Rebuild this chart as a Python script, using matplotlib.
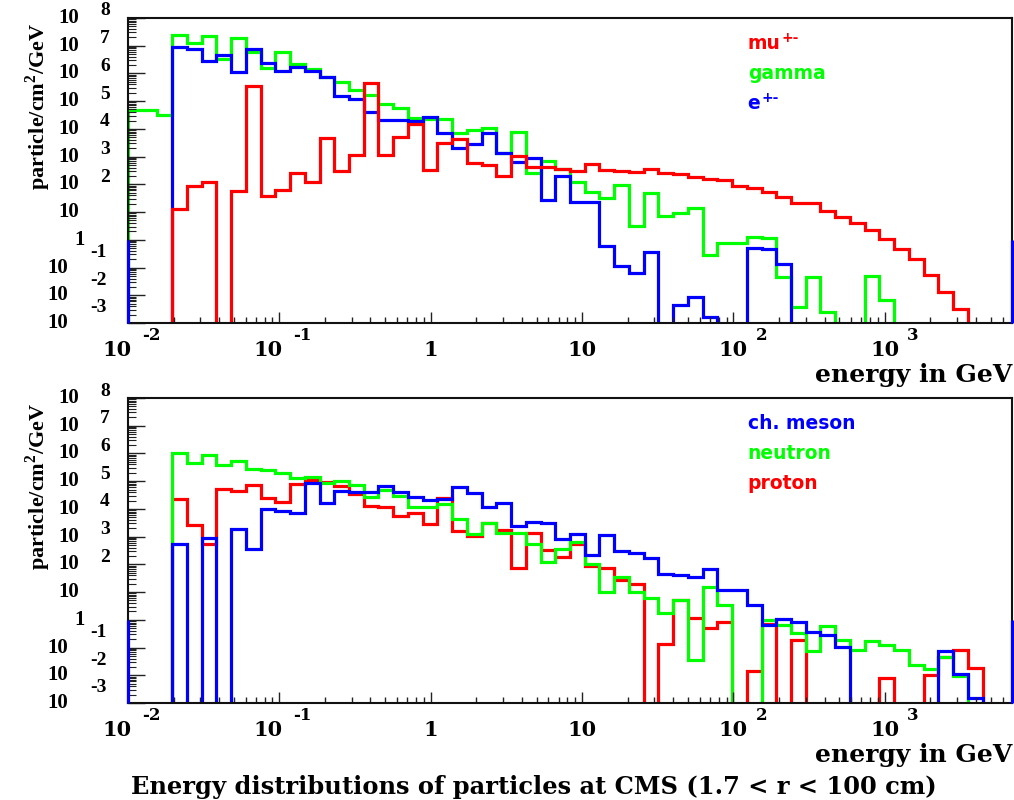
import numpy as np
import matplotlib
matplotlib.use("Agg")
import matplotlib.pyplot as plt
import matplotlib.transforms as mtransforms
from matplotlib.ticker import LogLocator, NullFormatter

# 60 log-spaced energy bins (GeV)
LOG_EMIN, LOG_EMAX, NBINS = -2.0, 3.84, 60
EDGE_LEVEL = 1.0   # height of the blue line drawn on both frame edges

# log10(particle/cm2/GeV) per bin, None = empty bin
# top panel
mu_top = [None, None, None, 1.10, 1.95, 2.10, None, 1.76, 5.56, 1.58,
          1.80, 2.40, 2.10, 3.66, 2.48, 3.06, 5.67, 3.06, 3.72, 4.17,
          2.52, 3.50, 3.62, 2.76, 2.70, 2.31, 3.02, 2.64, 2.64, 2.55,
          2.49, 2.73, 2.52, 2.49, 2.43, 2.55, 2.42, 2.36, 2.28, 2.20,
          2.17, 1.95, 1.86, 1.71, 1.56, 1.34, 1.32, 1.05, 0.83, 0.62,
          0.35, 0.02, -0.34, -0.70, -1.27, -1.87, -2.51, None, None, None]
gamma_top = [4.68, 4.68, 4.50, 7.39, 7.11, 7.35, 6.51, 7.27, 6.78, 6.21,
             6.76, 6.33, 6.15, 5.88, 5.68, 5.39, 5.21, 4.90, 4.74, 4.38,
             4.36, 4.36, 3.86, 3.96, 4.02, 3.12, 3.88, 2.40, 2.85, 2.54,
             2.10, 1.74, 1.50, 1.98, 0.51, 1.68, 0.86, 0.96, 1.14, -0.55,
             -0.13, -0.13, 0.09, 0.07, -1.33, -2.43, -1.33, -2.61, None, None,
             -1.30, -2.17, None, None, None, None, None, None, None, None]
e_top = [None, None, None, 6.96, 6.87, 6.45, 6.66, 6.04, 6.87, 6.39,
         6.09, 6.24, 6.10, 5.86, 5.19, 5.09, 4.60, 4.32, 4.32, 4.28,
         4.44, 3.84, 3.30, 3.46, 3.86, 3.14, 2.82, 2.96, 1.44, 2.30,
         1.37, 1.37, -0.21, -0.93, -1.21, -0.45, None, -2.35, -2.05, -2.77,
         None, None, -0.28, -0.34, -0.87, None, None, None, None, None,
         None, None, None, None, None, None, None, None, None, None]
# bottom panel
meson_bot = [None, None, None, 2.73, None, 2.94, None, 3.27, 2.54, 4.00,
             3.92, 3.86, 4.95, 4.20, 4.66, 4.62, 4.62, 4.83, 4.60, 4.44,
             4.32, 4.36, 4.78, 4.56, 4.06, 4.20, 3.39, 3.54, 3.50, 2.90,
             3.09, 2.34, 3.06, 2.49, 2.40, 2.22, 1.65, 1.62, 1.53, 1.83,
             1.09, 1.09, 0.55, -0.19, 0.02, -0.07, -0.45, -0.55, -0.97, None,
             None, None, None, None, None, -1.12, -1.95, -2.83, None, None]
neutron_bot = [None, None, None, 6.00, 5.64, 5.94, 5.58, 5.74, 5.43, 5.41,
               5.28, 5.10, 5.14, 4.95, 5.02, 4.86, 4.44, 4.68, 4.46, 4.06,
               4.06, 4.18, 3.64, 3.08, 3.50, 3.14, 3.12, 2.73, 2.10, 2.55,
               2.79, 2.01, 0.99, 1.55, 1.01, 0.77, 0.23, 0.71, -1.45, 1.20,
               0.55, None, None, 0.0, -0.19, -0.46, -1.12, -0.22, -0.73, -1.09,
               -0.75, -0.90, -1.10, -1.64, -1.79, -1.35, -2.03, None, None, None]
proton_bot = [None, None, None, 4.36, 3.42, 2.73, 4.72, 4.65, 4.86, 4.38,
              4.26, 4.90, 5.04, 4.98, 4.83, 4.54, 4.12, 4.08, 3.75, 3.86,
              3.44, 4.38, 3.21, 3.02, 3.50, 3.24, 1.86, 3.14, 2.52, 2.28,
              2.72, 1.95, 1.86, 1.44, 1.29, None, -0.87, 0.71, 0.05, -0.31,
              -0.07, None, -1.84, -0.15, None, -0.73, None, None, None, None,
              None, -2.11, None, None, -1.99, -1.33, -1.09, -1.75, None, None]

RED, GREEN, BLUE = "#ff0000", "#00ff00", "#0000ff"
YMIN, YMAX = 1e-3, 1e8
edges = np.logspace(LOG_EMIN, LOG_EMAX, NBINS + 1)

SERIF = "DejaVu Serif"
TIMES = "Liberation Serif"
SANS = "DejaVu Sans"
plt.rcParams["mathtext.fontset"] = "custom"
plt.rcParams["mathtext.rm"] = "Liberation Serif:bold"

fig = plt.figure(figsize=(10.14, 8.0), dpi=100)
ax_top = fig.add_axes([0.1262, 0.5963, 0.8718, 0.38125])
ax_bot = fig.add_axes([0.1262, 0.12125, 0.8718, 0.38125])


def off(trans, dx, dy):
    return mtransforms.offset_copy(trans, fig=fig, x=dx, y=dy, units="dots")


def hist(ax, logs, color):
    vals = np.array([10.0 ** v if v is not None else 1e-9 for v in logs])
    ax.stairs(vals, edges, baseline=1e-9, color=color, lw=2.3)


def style(ax):
    ax.set_xscale("log"); ax.set_yscale("log")
    ax.set_xlim(edges[0], edges[-1]); ax.set_ylim(YMIN, YMAX)
    ax.yaxis.set_major_locator(LogLocator(base=10, numticks=30))
    ax.yaxis.set_minor_locator(LogLocator(base=10, subs=np.arange(2, 10), numticks=30))
    ax.xaxis.set_major_locator(LogLocator(base=10, numticks=30))
    ax.xaxis.set_minor_locator(LogLocator(base=10, subs=np.arange(2, 10), numticks=30))
    ax.xaxis.set_minor_formatter(NullFormatter()); ax.yaxis.set_minor_formatter(NullFormatter())
    ax.tick_params(which="both", direction="in", top=False, right=False,
                   labelleft=False, labelbottom=False, color="#222222")
    ax.tick_params(axis="y", which="major", length=12, width=1.0)
    ax.tick_params(axis="y", which="minor", length=6, width=0.8)
    ax.tick_params(axis="x", which="major", length=8, width=1.0)
    ax.tick_params(axis="x", which="minor", length=4.3, width=1.0)
    for s in ax.spines.values():
        s.set_linewidth(1.5); s.set_color("#111111")

    ty = ax.get_yaxis_transform()
    yk = dict(family=TIMES, weight="bold", va="center")
    for d in range(-3, 9):
        v = 10.0 ** d
        if d == 0:
            ax.text(0, v, "1", transform=off(ty, -43, 0), ha="right", fontsize=15, **yk)
        elif d == 1:
            ax.text(0, v, "10", transform=off(ty, -49, 0), ha="right", fontsize=15, **yk)
        elif d > 1:
            ax.text(0, v, "10", transform=off(ty, -49, 0), ha="right", fontsize=15, **yk)
            ax.text(0, v, str(d), transform=off(ty, -28, 7), ha="left", fontsize=14, **yk)
        else:
            ax.text(0, v, "10", transform=off(ty, -60, 0), ha="right", fontsize=15, **yk)
            ax.text(0, v, str(d), transform=off(ty, -38, 15), ha="left", fontsize=14, **yk)

    tx = ax.get_xaxis_transform()
    xk = dict(family=SERIF, weight="bold", va="center")
    for d in range(-2, 4):
        v = 10.0 ** d
        if d == 0:
            ax.text(v, 0, "1", transform=off(tx, 0, -27), ha="center", fontsize=15, **xk)
        elif d == 1:
            ax.text(v, 0, "10", transform=off(tx, 0, -27), ha="center", fontsize=15, **xk)
        elif d > 1:
            ax.text(v, 0, "10", transform=off(tx, 0, -27), ha="center", fontsize=15, **xk)
            ax.text(v, 0, str(d), transform=off(tx, 22, -13), ha="left", fontsize=12, **xk)
        else:
            ax.text(v, 0, "10", transform=off(tx, -11, -27), ha="center", fontsize=15, **xk)
            ax.text(v, 0, str(d), transform=off(tx, 14, -13), ha="left", fontsize=12, **xk)

    ax.text(1, 0, "energy in GeV", transform=off(ax.transAxes, 0, -59), ha="right",
            va="baseline", family=SERIF, weight="bold", fontsize=18)
    ax.text(0, 1, "particle/cm$^{2}$/GeV", transform=off(ax.transAxes, -90, -5),
            rotation=90, ha="center", va="top", family=TIMES, weight="bold", fontsize=16)
    # blue lines on the left/right frame edges
    ax.vlines([edges[0], edges[-1]], YMIN, EDGE_LEVEL, color=BLUE, lw=2.3,
              clip_on=False, zorder=5)


def legend(ax, items):
    for i, (txt, sup, color) in enumerate(items):
        tr = off(ax.transAxes, 0, -31 - 30 * i)
        ax.text(0.701, 1, txt, transform=tr, color=color, family=SANS, weight="bold",
                fontsize=13.5, ha="left", va="baseline")
        if sup:
            ax.text(0.701, 1, sup, transform=off(tr, 34 if txt == "mu" else 14, 7),
                    color=color, family=SANS, weight="bold", fontsize=10,
                    ha="left", va="baseline")


# top: mu, gamma, e
hist(ax_top, gamma_top, GREEN)
hist(ax_top, e_top, BLUE)
hist(ax_top, mu_top, RED)
style(ax_top)
legend(ax_top, [("mu", "+-", RED), ("gamma", "", GREEN), ("e", "+-", BLUE)])

# bottom: charged mesons, neutrons, protons
hist(ax_bot, proton_bot, RED)
hist(ax_bot, neutron_bot, GREEN)
hist(ax_bot, meson_bot, BLUE)
style(ax_bot)
legend(ax_bot, [("ch. meson", "", BLUE), ("neutron", "", GREEN), ("proton", "", RED)])

fig.text(534 / 1014, 1 - 787 / 800, "Energy distributions of particles at CMS (1.7 < r < 100 cm)",
         ha="center", va="center", family=SERIF, weight="bold", fontsize=17.4)

fig.savefig("out.png", dpi=100)
